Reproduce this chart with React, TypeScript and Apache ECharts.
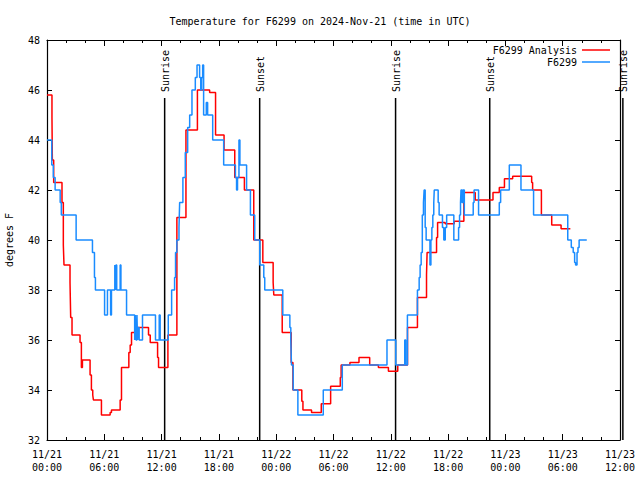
import React, { useEffect, useRef } from "react";
import * as echarts from "echarts";

// ---- data (hours since 2024-11-21 00:00 UTC, degrees F) ----
const titleText = "Temperature for F6299 on 2024-Nov-21 (time in UTC)";
const yAxisName = "degrees F";
const analysisName = "F6299 Analysis";
const stationName = "F6299";

const xTickLabels = [
  "11/21\n00:00", "11/21\n06:00", "11/21\n12:00", "11/21\n18:00",
  "11/22\n00:00", "11/22\n06:00", "11/22\n12:00", "11/22\n18:00",
  "11/23\n00:00", "11/23\n06:00", "11/23\n12:00",
];

const sunTimes = [12.32, 22.27, 36.5, 46.36, 60.3];
const sunLabels = ["Sunrise", "Sunset", "Sunrise", "Sunset", "Sunrise"];

// step data: [hour, value] – value holds until next hour
const analysisSteps = [
  [0, 45.8], [0.52, 44.9], [0.56, 43.2], [0.7, 42.3], [1.57, 41.5], [1.71, 39.8],
  [1.78, 39.0], [2.41, 38.3], [2.48, 36.9], [2.62, 36.2], [3.46, 35.9], [3.6, 34.9],
  [3.71, 35.2], [4.51, 34.6], [4.65, 34.0], [4.79, 33.8], [4.86, 33.6], [5.7, 33.0],
  [6.61, 33.1], [6.75, 33.2], [7.66, 33.6], [7.8, 34.9], [8.57, 35.5], [8.71, 35.8],
  [8.85, 36.3], [9.5, 36.5], [10.63, 36.2], [10.81, 35.9], [11.58, 35.3], [11.68, 34.9],
  [12.66, 36.2], [13.6, 40.9], [14.55, 44.4], [15.75, 46.0], [17.03, 45.9], [17.65, 44.2],
  [18.54, 43.6], [19.66, 42.5], [20.67, 42.0], [21.65, 40.0], [22.6, 39.1], [23.68, 38.3],
  [23.75, 37.8], [24.63, 36.3], [25.57, 35.1], [25.75, 34.0], [26.68, 33.55], [26.8, 33.2],
  [27.7, 33.1], [28.72, 33.45], [29.7, 34.15], [30.71, 34.5], [30.8, 35.0], [31.72, 35.1],
  [32.67, 35.3], [33.79, 35.0], [34.7, 34.9], [35.75, 34.75], [36.73, 35.0], [37.75, 36.5],
  [38.79, 37.7], [39.74, 38.6], [39.8, 39.5], [40.79, 40.1], [40.9, 40.7], [41.69, 40.65],
  [42.64, 40.75], [43.65, 41.9], [44.84, 41.6], [46.7, 41.9], [47.36, 42.1], [47.9, 42.45],
  [48.76, 42.55], [50.75, 42.3], [50.85, 42.0], [51.77, 41.0], [52.85, 40.6], [53.83, 40.45],
  [54.8, 40.45],
];

const stationSteps = [
  [0, 44.0], [0.5, 43.0], [0.66, 42.5], [0.85, 42.0], [1.38, 41.5], [1.5, 41.0],
  [3.05, 40.0], [4.76, 39.5], [4.97, 38.5], [5.07, 38.0], [6.03, 37.0], [6.33, 38.0],
  [6.66, 37.0], [6.75, 38.0], [7.1, 39.0], [7.17, 38.0], [7.22, 39.0], [7.3, 38.0],
  [7.66, 39.0], [7.74, 38.0], [8.33, 37.0], [9.18, 36.0], [9.25, 37.0], [9.32, 36.0],
  [9.42, 37.0], [9.48, 36.0], [9.55, 36.5], [9.65, 36.0], [10.0, 37.0], [11.36, 36.0],
  [11.75, 37.0], [11.85, 36.0], [12.7, 37.0], [13.05, 38.0], [13.36, 38.5], [13.46, 39.5],
  [13.6, 40.0], [13.82, 40.5], [13.89, 41.5], [14.23, 42.5], [14.48, 43.5], [14.73, 44.5],
  [14.94, 45.0], [15.18, 46.0], [15.53, 46.5], [15.71, 47.0], [15.98, 46.5], [16.1, 46.0],
  [16.2, 46.5], [16.3, 47.0], [16.4, 45.0], [16.68, 45.5], [16.82, 45.0], [17.35, 44.0],
  [18.5, 43.0], [19.73, 42.5], [19.85, 42.0], [19.95, 42.5], [20.1, 44.0], [20.2, 43.0],
  [20.9, 42.0], [21.3, 41.0], [21.75, 40.0], [22.28, 39.0], [22.7, 38.5], [22.8, 38.0],
  [24.69, 37.0], [25.43, 36.5], [25.53, 36.0], [25.6, 35.0], [25.78, 34.0], [26.27, 33.0],
  [28.93, 34.0], [30.92, 35.0], [35.6, 36.0], [36.52, 35.0], [37.46, 36.0], [37.57, 35.0],
  [37.74, 37.0], [38.79, 38.0], [38.97, 38.5], [39.07, 39.0], [39.18, 39.5], [39.3, 41.0],
  [39.42, 41.5], [39.49, 42.0], [39.6, 40.5], [39.7, 40.0], [40.1, 39.0], [40.2, 40.0],
  [40.3, 40.5], [40.4, 41.0], [40.5, 41.5], [40.55, 42.0], [40.96, 41.5], [41.06, 41.0],
  [41.41, 40.5], [41.55, 40.0], [41.7, 40.5], [41.85, 41.0], [42.6, 40.0], [43.1, 40.5],
  [43.2, 41.0], [43.3, 41.5], [43.35, 42.0], [43.45, 41.5], [43.55, 42.0], [43.7, 41.0],
  [44.63, 41.5], [44.72, 42.0], [45.19, 41.0], [47.36, 41.5], [47.5, 42.0], [48.41, 43.0],
  [49.63, 42.0], [50.95, 41.0], [54.53, 40.0], [54.9, 39.7], [55.1, 39.5], [55.25, 39.1],
  [55.35, 39.0], [55.5, 39.5], [55.6, 39.7], [55.72, 40.0], [56.52, 40.0],
];

const FONT = '"DejaVu Sans Mono", "Liberation Mono", monospace';

export default function App() {
  const ref = useRef<HTMLDivElement>(null);

  useEffect(() => {
    if (!ref.current) return;
    const chart = echarts.init(ref.current, undefined, { renderer: "svg" });

    const axisLine = { show: true, onZero: false, lineStyle: { color: "#000", width: 1.2 } };
    const baseX = {
      type: "value" as const,
      min: 0,
      max: 60,
      interval: 6,
      axisLine,
      axisTick: { show: true, inside: true, length: 6, lineStyle: { color: "#000" } },
      minorTick: { show: true, splitNumber: 3, length: 3, lineStyle: { color: "#000" } },
      splitLine: { show: false },
      minorSplitLine: { show: false },
    };
    const baseY = {
      type: "value" as const,
      min: 32,
      max: 48,
      interval: 2,
      axisLine,
      axisTick: { show: true, inside: true, length: 5, lineStyle: { color: "#000" } },
      splitLine: { show: false },
    };

    const legendCommon = {
      orient: "vertical" as const,
      align: "right" as const,
      right: 30,
      icon: "rect",
      itemWidth: 28,
      itemHeight: 1.5,
      itemGap: 0,
      padding: 0,
      selectedMode: false,
      textStyle: { fontFamily: FONT, fontSize: 10, color: "#000" },
    };

    chart.setOption({
      animation: false,
      backgroundColor: "#fff",
      title: {
        text: titleText,
        left: "center",
        top: 11,
        textStyle: { fontFamily: FONT, fontSize: 10, fontWeight: "normal", color: "#000" },
      },
      legend: [
        { ...legendCommon, data: [analysisName], top: 45 },
        { ...legendCommon, data: [stationName], top: 57 },
      ],
      grid: { left: 47, right: 20, top: 40, bottom: 40, outerBoundsMode: "none", containLabel: false },
      xAxis: [
        {
          ...baseX,
          position: "bottom",
          axisLabel: {
            fontFamily: FONT,
            fontSize: 10,
            color: "#000",
            lineHeight: 13,
            margin: 8,
            formatter: (v: number) => xTickLabels[Math.round(v / 6)] ?? "",
          },
        },
        { ...baseX, position: "top", axisLabel: { show: false } },
      ],
      yAxis: [
        {
          ...baseY,
          position: "left",
          name: yAxisName,
          nameLocation: "middle",
          nameGap: 33,
          nameRotate: 90,
          nameTextStyle: { fontFamily: FONT, fontSize: 10, color: "#000" },
          axisLabel: { fontFamily: FONT, fontSize: 10, color: "#000", margin: 7 },
        },
        { ...baseY, position: "right", axisLabel: { show: false } },
      ],
      series: [
        {
          type: "custom",
          name: "sun",
          clip: false,
          silent: true,
          z: 1,
          data: sunTimes.map((t) => [t, 32]),
          encode: { x: 0, y: 1 },
          renderItem: (params: any, api: any) => {
            const x = api.coord([api.value(0), 32])[0];
            const cs = params.coordSys;
            const bottom = cs.y + cs.height;
            return {
              type: "group",
              children: [
                {
                  type: "line",
                  shape: { x1: x, y1: bottom, x2: x, y2: cs.y + 58 },
                  style: { stroke: "#000", lineWidth: 1.5 },
                },
                {
                  type: "text",
                  x: x + 1,
                  y: cs.y + 52,
                  rotation: Math.PI / 2,
                  style: {
                    text: sunLabels[params.dataIndex],
                    fill: "#000",
                    fontFamily: FONT,
                    fontSize: 10,
                    align: "left",
                    verticalAlign: "middle",
                  },
                },
              ],
            };
          },
        },
        {
          type: "line",
          name: analysisName,
          step: "end",
          symbol: "none",
          data: analysisSteps,
          color: "#ff0000",
          lineStyle: { color: "#ff0000", width: 1.5 },
          z: 2,
        },
        {
          type: "line",
          name: stationName,
          step: "end",
          symbol: "none",
          data: stationSteps,
          color: "#1a8cff",
          lineStyle: { color: "#1a8cff", width: 1.5 },
          z: 3,
        },
      ],
    });

    return () => chart.dispose();
  }, []);

  return <div ref={ref} style={{ width: 640, height: 480, position: "absolute", left: 0, top: 0 }} />;
}
